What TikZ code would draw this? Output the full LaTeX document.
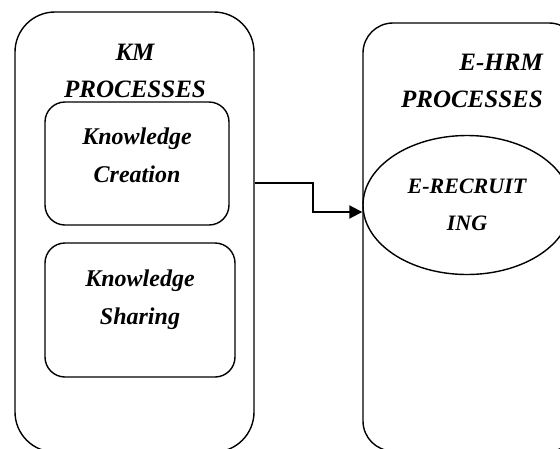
\documentclass[tikz,border=0pt]{standalone}
\usepackage{fontspec}
\setmainfont{Liberation Serif}
\usetikzlibrary{arrows.meta,shapes.geometric,calc}
\tikzset{
  outerbox/.style={draw, line width=1.4pt, rounded corners=#1, inner sep=0pt},
  innerbox/.style={draw, line width=1.4pt, rounded corners=20pt, inner sep=0pt},
  ttl/.style={inner sep=0pt, font=\fontsize{25}{37}\selectfont\bfseries\itshape},
  lbl/.style={inner sep=0pt, align=center, font=\fontsize{24}{38}\selectfont\bfseries\itshape},
  conn/.style={line width=2pt, -{Triangle[length=13pt,width=13pt]}}
}
\begin{document}
\begin{tikzpicture}[x=1pt,y=-1pt]
\useasboundingbox (0,0) rectangle (560,448);
\clip (0,0) rectangle (560,448);
% left outer box
\node[outerbox=40pt, minimum width=239pt, minimum height=440pt] (km) at (134.5,232) {};
\node[ttl, align=center] (kmtitle) at (135,70.5) {KM\\PROCESSES};
\node[innerbox, minimum width=184pt, minimum height=123pt] (kc) at (137,163.5) {};
\node[lbl] (kctext) at (137,155.5) {Knowledge\\Creation};
\node[innerbox, minimum width=190pt, minimum height=134pt] (ks) at (140,310) {};
\node[lbl] (kstext) at (140,299.5) {Knowledge\\Sharing};
% right outer box
\node[outerbox=30pt, minimum width=216pt, minimum height=428pt] (ehrm) at (471,237) {};
\node[ttl, align=right, anchor=east] (ehrmtitle) at (543,80.5) {E-HRM\\PROCESSES};
\node[draw, line width=1.4pt, ellipse, minimum width=208pt, minimum height=139pt, inner sep=0pt, align=center,
      font=\fontsize{22}{37}\selectfont\bfseries\itshape] (erec) at (467,205) {E-RECRUIT\\ING};
% connector
\coordinate (bend) at (313,183);
\coordinate (tip) at ($(erec.west)+(0,7)$);
\draw[conn] (km.east |- bend) -- (bend) -- (bend |- tip) -- (tip);
\end{tikzpicture}
\end{document}
